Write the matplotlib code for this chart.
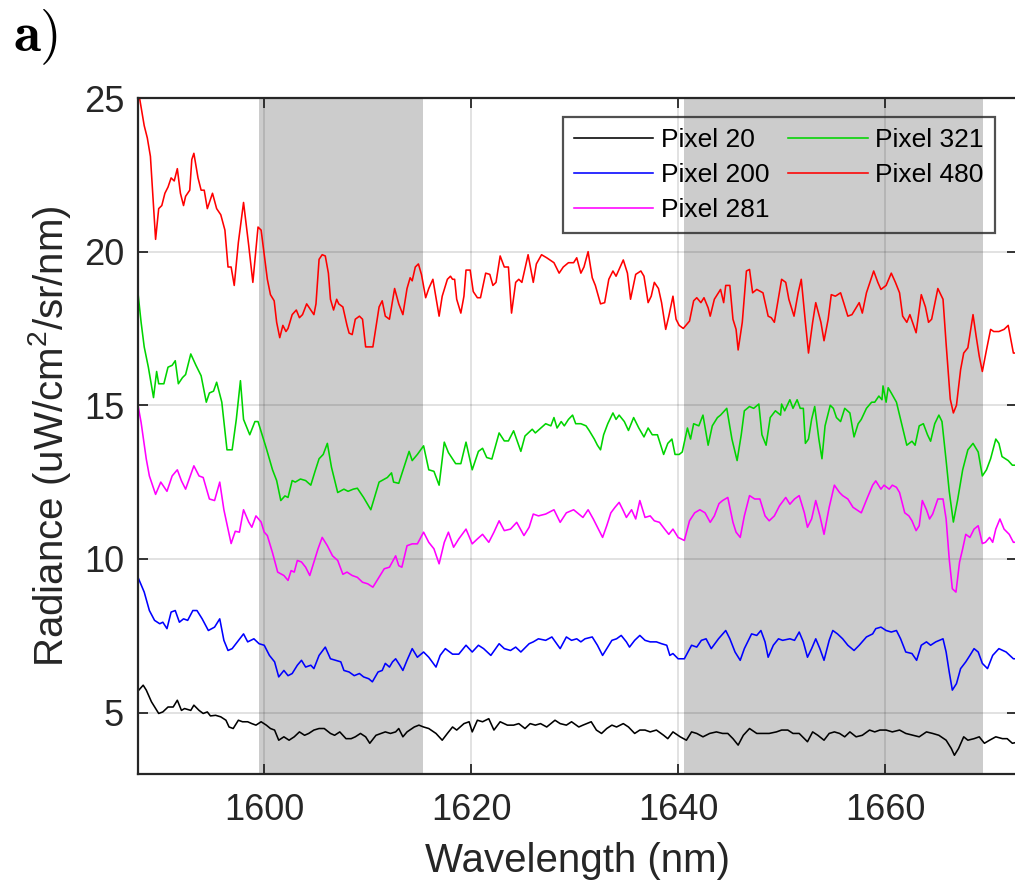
import matplotlib
matplotlib.use('Agg')
import matplotlib.pyplot as plt

plt.rcParams['font.family'] = ['Liberation Sans', 'DejaVu Sans']
plt.rcParams['mathtext.fontset'] = 'custom'
plt.rcParams['mathtext.rm'] = 'Liberation Sans'

# Pixel 20 (preto)
wl_px20 = [1587.8, 1588.3, 1588.6, 1589.1, 1589.8, 1590.2, 1590.7, 1591.2, 1591.6, 1592.0,
           1592.3, 1592.9, 1593.2, 1593.7, 1594.1, 1594.5, 1594.8, 1595.3, 1595.8, 1596.3,
           1596.6, 1597.0, 1597.5, 1597.9, 1598.4, 1598.8, 1599.2, 1599.7, 1600.2, 1600.6,
           1601.0, 1601.4, 1601.9, 1602.4, 1602.9, 1603.4, 1603.9, 1604.3, 1604.8, 1605.3,
           1605.8, 1606.4, 1606.8, 1607.3, 1607.9, 1608.4, 1608.8, 1609.3, 1609.8, 1610.2,
           1610.8, 1611.3, 1611.7, 1612.2, 1612.7, 1613.0, 1613.4, 1613.8, 1614.5, 1614.95,
           1615.4, 1615.9, 1616.6, 1617.2, 1617.7, 1618.2, 1618.6, 1619.3, 1619.8, 1620.1,
           1620.6, 1621.1, 1621.7, 1622.2, 1622.8, 1623.5, 1624.1, 1624.6, 1625.2, 1625.7,
           1626.2, 1626.7, 1627.3, 1628.1, 1628.6, 1629.2, 1629.7, 1630.4, 1630.8, 1631.6,
           1632.1, 1632.6, 1633.1, 1633.6, 1634.05, 1634.7, 1635.2, 1635.8, 1636.3, 1636.8,
           1637.3, 1637.9, 1638.6, 1639.0, 1639.5, 1640.2, 1640.8, 1641.3, 1641.8, 1642.4,
           1643.05, 1643.7, 1644.3, 1644.8, 1645.3, 1645.8, 1646.3, 1646.9, 1647.6, 1648.2,
           1648.8, 1649.5, 1650.0, 1650.6, 1651.1, 1651.7, 1652.5, 1653.0, 1653.5, 1654.1,
           1654.6, 1655.1, 1655.6, 1656.1, 1656.6, 1657.2, 1657.8, 1658.5, 1659.0, 1659.5,
           1660.1, 1660.7, 1661.4, 1662.0, 1662.7, 1663.3, 1664.0, 1664.6, 1665.2, 1665.9,
           1666.4, 1666.7, 1667.1, 1667.6, 1668.0, 1668.6, 1669.1, 1669.6, 1670.1, 1670.7,
           1671.35, 1671.8, 1672.3, 1673.0]
rad_px20 = [5.70, 5.89, 5.73, 5.35, 4.97, 5.02, 5.18, 5.18, 5.40, 5.07,
            5.13, 5.07, 5.24, 5.07, 4.97, 5.02, 4.89, 4.91, 4.86, 4.75,
            4.53, 4.48, 4.75, 4.70, 4.70, 4.64, 4.59, 4.70, 4.59, 4.48,
            4.43, 4.10, 4.21, 4.10, 4.21, 4.37, 4.26, 4.32, 4.43, 4.48,
            4.48, 4.32, 4.26, 4.37, 4.15, 4.15, 4.21, 4.32, 4.21, 4.00,
            4.26, 4.32, 4.37, 4.32, 4.37, 4.48, 4.21, 4.37, 4.53, 4.59,
            4.53, 4.48, 4.32, 4.10, 4.32, 4.53, 4.43, 4.64, 4.70, 4.37,
            4.75, 4.70, 4.80, 4.43, 4.70, 4.59, 4.59, 4.64, 4.48, 4.64,
            4.59, 4.64, 4.53, 4.75, 4.64, 4.59, 4.70, 4.53, 4.59, 4.70,
            4.43, 4.32, 4.48, 4.59, 4.53, 4.64, 4.53, 4.32, 4.43, 4.43,
            4.37, 4.43, 4.26, 4.15, 4.37, 4.21, 4.10, 4.37, 4.32, 4.21,
            4.32, 4.37, 4.32, 4.32, 4.15, 3.94, 4.26, 4.48, 4.32, 4.32,
            4.32, 4.37, 4.43, 4.43, 4.32, 4.32, 4.05, 4.37, 4.26, 4.10,
            4.32, 4.37, 4.32, 4.21, 4.37, 4.21, 4.26, 4.43, 4.37, 4.43,
            4.43, 4.37, 4.43, 4.32, 4.26, 4.21, 4.37, 4.32, 4.26, 4.10,
            3.83, 3.61, 3.83, 4.21, 4.10, 4.15, 4.21, 4.00, 4.10, 4.21,
            4.15, 4.15, 4.00, 4.05]

# Pixel 200 (azul)
wl_px200 = [1587.8, 1588.4, 1588.9, 1589.4, 1589.9, 1590.2, 1590.6, 1591.0, 1591.4, 1591.8,
            1592.2, 1592.6, 1593.1, 1593.5, 1594.0, 1594.6, 1595.2, 1595.7, 1596.1, 1596.5,
            1596.9, 1597.4, 1598.0, 1598.4, 1599.0, 1599.5, 1600.0, 1600.5, 1601.0, 1601.4,
            1601.9, 1602.3, 1602.7, 1603.2, 1603.6, 1604.0, 1604.5, 1604.8, 1605.3, 1605.9,
            1606.4, 1606.9, 1607.4, 1607.7, 1608.2, 1608.7, 1609.2, 1609.6, 1610.1, 1610.45,
            1611.0, 1611.4, 1611.7, 1612.1, 1612.4, 1612.7, 1613.1, 1613.4, 1613.8, 1614.3,
            1614.8, 1615.4, 1615.9, 1616.6, 1617.0, 1617.5, 1618.2, 1618.8, 1619.5, 1620.1,
            1620.7, 1621.2, 1621.9, 1622.7, 1623.2, 1623.8, 1624.3, 1624.8, 1625.6, 1626.0,
            1626.5, 1627.2, 1627.8, 1628.6, 1629.2, 1629.7, 1630.2, 1630.6, 1631.0, 1631.7,
            1632.2, 1632.7, 1633.1, 1633.6, 1634.05, 1634.5, 1635.0, 1635.3, 1635.8, 1636.3,
            1636.8, 1637.3, 1637.9, 1638.4, 1638.9, 1639.2, 1639.5, 1640.0, 1640.6, 1641.3,
            1641.8, 1642.25, 1642.7, 1643.2, 1643.9, 1644.6, 1645.0, 1645.5, 1646.0, 1646.4,
            1647.1, 1647.6, 1648.0, 1648.4, 1648.7, 1649.2, 1649.7, 1650.1, 1650.8, 1651.25,
            1651.7, 1652.1, 1652.5, 1652.9, 1653.3, 1653.7, 1654.1, 1654.6, 1654.95, 1655.4,
            1655.9, 1656.4, 1657.0, 1657.5, 1658.2, 1658.8, 1659.1, 1659.6, 1660.1, 1660.6,
            1661.1, 1661.5, 1662.0, 1662.6, 1663.05, 1663.5, 1664.0, 1664.4, 1664.9, 1665.6,
            1665.9, 1666.2, 1666.5, 1666.9, 1667.3, 1667.8, 1668.2, 1668.6, 1669.0, 1669.4,
            1669.9, 1670.4, 1671.0, 1671.7, 1672.4, 1673.0]
rad_px200 = [9.40, 8.92, 8.32, 8.00, 7.89, 7.94, 7.73, 8.27, 8.32, 7.94,
             8.05, 8.00, 8.32, 8.32, 8.05, 7.67, 7.78, 8.05, 7.35, 7.02,
             7.08, 7.30, 7.56, 7.30, 7.40, 7.24, 7.19, 6.86, 6.65, 6.16,
             6.37, 6.20, 6.27, 6.54, 6.70, 6.48, 6.54, 6.43, 6.86, 7.13,
             6.75, 6.70, 6.65, 6.37, 6.32, 6.20, 6.27, 6.16, 6.10, 6.00,
             6.32, 6.37, 6.60, 6.48, 6.65, 6.75, 6.54, 6.37, 6.70, 7.08,
             6.80, 6.97, 6.80, 6.48, 6.86, 7.08, 6.90, 6.90, 7.19, 6.97,
             7.19, 7.08, 6.86, 7.24, 7.08, 7.02, 7.13, 6.97, 7.24, 7.30,
             7.40, 7.35, 7.46, 7.08, 7.46, 7.35, 7.40, 7.30, 7.40, 7.46,
             7.19, 6.86, 7.08, 7.35, 7.40, 7.51, 7.30, 7.13, 7.35, 7.51,
             7.35, 7.30, 7.30, 7.24, 7.19, 6.86, 6.92, 6.75, 6.75, 7.19,
             7.13, 7.35, 7.40, 7.08, 7.40, 7.67, 7.40, 6.97, 6.70, 7.08,
             7.56, 7.51, 7.67, 7.30, 6.80, 7.19, 7.40, 7.35, 7.40, 7.35,
             7.62, 7.30, 6.80, 7.08, 7.40, 7.08, 6.70, 7.35, 7.67, 7.56,
             7.40, 7.19, 7.02, 7.19, 7.46, 7.56, 7.73, 7.78, 7.67, 7.62,
             7.67, 7.40, 6.97, 6.92, 6.70, 7.19, 7.30, 7.19, 7.30, 7.40,
             6.97, 6.32, 5.73, 5.94, 6.43, 6.65, 6.86, 7.08, 6.97, 6.60,
             6.43, 6.86, 7.08, 6.97, 6.75, 6.75]

# Pixel 281 (magenta)
wl_px281 = [1587.8, 1588.1, 1588.6, 1588.9, 1589.5, 1590.0, 1590.6, 1591.1, 1591.6, 1592.0,
            1592.4, 1593.2, 1593.7, 1594.1, 1594.7, 1595.2, 1595.7, 1596.1, 1596.8, 1597.2,
            1597.6, 1598.0, 1598.5, 1598.8, 1599.2, 1599.7, 1600.0, 1600.3, 1600.8, 1601.3,
            1601.9, 1602.3, 1602.6, 1602.9, 1603.2, 1603.6, 1604.0, 1604.4, 1604.8, 1605.2,
            1605.6, 1606.1, 1606.6, 1607.1, 1607.6, 1608.0, 1608.5, 1609.0, 1609.5, 1610.0,
            1610.5, 1611.0, 1611.6, 1612.1, 1612.7, 1613.0, 1613.3, 1613.8, 1614.3, 1614.8,
            1615.4, 1615.9, 1616.4, 1616.9, 1617.4, 1617.8, 1618.3, 1618.8, 1619.5, 1620.1,
            1620.6, 1621.1, 1621.7, 1622.2, 1622.7, 1623.2, 1623.8, 1624.4, 1625.1, 1625.6,
            1626.0, 1626.5, 1627.2, 1628.0, 1628.6, 1629.2, 1629.9, 1630.4, 1630.8, 1631.3,
            1631.8, 1632.3, 1632.7, 1633.1, 1633.5, 1633.9, 1634.3, 1634.7, 1635.0, 1635.5,
            1635.9, 1636.3, 1636.8, 1637.3, 1637.7, 1638.2, 1638.7, 1639.1, 1639.5, 1640.0,
            1640.6, 1641.1, 1641.6, 1642.1, 1642.6, 1643.1, 1643.5, 1643.95, 1644.3, 1644.8,
            1645.3, 1645.6, 1646.0, 1646.4, 1646.9, 1647.4, 1647.9, 1648.4, 1648.8, 1649.3,
            1649.8, 1650.4, 1650.8, 1651.25, 1651.7, 1652.2, 1652.5, 1652.9, 1653.3, 1653.7,
            1654.1, 1654.6, 1655.1, 1655.6, 1655.9, 1656.4, 1656.9, 1657.4, 1657.7, 1658.3,
            1658.8, 1659.1, 1659.6, 1659.9, 1660.4, 1660.7, 1661.1, 1661.4, 1661.9, 1662.3,
            1662.6, 1663.0, 1663.3, 1663.6, 1664.0, 1664.3, 1664.6, 1665.1, 1665.6, 1665.9,
            1666.2, 1666.5, 1666.85, 1667.2, 1667.5, 1667.8, 1668.2, 1668.6, 1669.0, 1669.4,
            1669.7, 1670.1, 1670.4, 1670.7, 1671.1, 1671.5, 1672.0, 1672.4, 1673.0]
rad_px281 = [15.00, 14.44, 13.25, 12.70, 12.10, 12.50, 12.20, 12.70, 12.90, 12.54,
             12.27, 13.03, 12.70, 12.65, 11.95, 11.90, 12.50, 11.60, 10.50, 10.90,
             10.87, 11.60, 11.20, 11.03, 11.40, 11.20, 10.87, 10.76, 10.20, 9.57,
             9.46, 9.30, 9.62, 9.57, 9.95, 9.90, 9.73, 9.46, 9.90, 10.33,
             10.70, 10.43, 10.10, 9.95, 9.50, 9.57, 9.46, 9.40, 9.24, 9.19,
             9.08, 9.35, 9.68, 9.73, 10.10, 9.78, 9.73, 10.43, 10.49, 10.49,
             10.87, 10.54, 10.33, 9.84, 10.54, 10.87, 10.38, 10.65, 10.97, 10.49,
             10.65, 10.80, 10.54, 10.87, 11.24, 10.92, 10.97, 11.19, 10.76, 11.03,
             11.46, 11.40, 11.46, 11.60, 11.19, 11.50, 11.60, 11.46, 11.35, 11.60,
             11.30, 10.97, 10.70, 11.08, 11.50, 11.68, 11.84, 11.57, 11.35, 11.60,
             11.30, 11.90, 11.35, 11.40, 11.24, 11.19, 10.97, 10.80, 10.97, 10.70,
             10.60, 11.24, 11.50, 11.60, 11.50, 11.19, 11.40, 11.80, 11.90, 12.00,
             11.19, 10.87, 10.70, 11.40, 12.06, 11.95, 11.95, 11.40, 11.24, 11.40,
             11.73, 12.00, 11.78, 11.95, 12.06, 11.50, 11.03, 11.30, 11.90, 11.40,
             10.80, 11.68, 12.40, 12.16, 12.06, 11.95, 11.68, 11.57, 11.50, 12.00,
             12.40, 12.54, 12.27, 12.40, 12.27, 12.40, 12.33, 12.16, 11.50, 11.40,
             11.24, 10.92, 11.08, 11.90, 11.60, 11.30, 11.46, 11.95, 11.95, 11.30,
             10.00, 9.03, 8.92, 9.90, 10.33, 10.80, 10.70, 10.97, 11.08, 10.50,
             10.54, 10.70, 10.54, 10.97, 11.30, 10.97, 10.80, 10.54, 10.55]

# Pixel 321 (verde)
wl_px321 = [1587.8, 1588.1, 1588.4, 1588.8, 1589.3, 1589.6, 1589.8, 1590.3, 1590.7, 1591.1,
            1591.4, 1591.7, 1592.1, 1592.4, 1592.9, 1593.4, 1593.9, 1594.4, 1594.7, 1595.1,
            1595.4, 1595.9, 1596.4, 1596.9, 1597.3, 1597.7, 1598.0, 1598.6, 1599.1, 1599.4,
            1600.2, 1600.8, 1601.2, 1601.6, 1602.0, 1602.3, 1602.7, 1603.0, 1603.5, 1604.0,
            1604.5, 1604.9, 1605.3, 1605.7, 1606.1, 1606.5, 1607.1, 1607.7, 1608.1, 1608.6,
            1609.0, 1609.6, 1610.3, 1611.1, 1611.9, 1612.3, 1612.5, 1613.0, 1614.0, 1614.3,
            1614.8, 1615.4, 1615.9, 1616.4, 1616.9, 1617.4, 1617.8, 1618.5, 1619.0, 1619.5,
            1620.1, 1620.7, 1621.1, 1621.5, 1622.0, 1622.7, 1623.2, 1623.6, 1624.1, 1624.8,
            1625.2, 1625.9, 1626.2, 1627.2, 1627.7, 1628.0, 1628.3, 1628.7, 1629.0, 1629.4,
            1629.8, 1630.1, 1630.6, 1631.1, 1631.4, 1631.9, 1632.2, 1632.5, 1632.8, 1633.2,
            1633.7, 1634.0, 1634.3, 1634.8, 1635.2, 1635.7, 1636.2, 1636.7, 1637.1, 1637.5,
            1638.0, 1638.6, 1639.0, 1639.4, 1639.7, 1640.1, 1640.4, 1640.9, 1641.2, 1641.5,
            1642.0, 1642.4, 1642.9, 1643.3, 1643.8, 1644.1, 1644.7, 1645.2, 1645.7, 1646.1,
            1646.4, 1646.9, 1647.3, 1647.8, 1648.1, 1648.5, 1648.9, 1649.4, 1649.9, 1650.0,
            1650.3, 1650.8, 1651.1, 1651.5, 1651.8, 1652.1, 1652.3, 1652.6, 1652.9, 1653.2,
            1653.6, 1653.9, 1654.2, 1654.7, 1655.0, 1655.3, 1655.7, 1656.1, 1656.6, 1657.0,
            1657.4, 1657.7, 1658.2, 1658.7, 1659.0, 1659.4, 1659.7, 1659.8, 1660.1, 1660.3,
            1660.6, 1661.1, 1661.6, 1662.1, 1662.6, 1662.9, 1663.3, 1663.7, 1664.1, 1664.4,
            1664.8, 1665.2, 1665.5, 1665.9, 1666.2, 1666.6, 1667.0, 1667.5, 1668.0, 1668.5,
            1669.0, 1669.4, 1669.8, 1670.2, 1670.7, 1671.0, 1671.3, 1671.9, 1672.3, 1673.0]
rad_px321 = [18.65, 17.70, 16.90, 16.24, 15.25, 16.10, 15.70, 15.70, 16.24, 16.30,
             16.45, 15.70, 15.90, 16.00, 16.67, 16.30, 15.96, 15.10, 15.40, 15.46,
             15.75, 15.10, 13.55, 13.55, 14.54, 15.80, 14.54, 14.04, 14.47, 14.47,
             13.60, 12.90, 12.55, 11.90, 12.05, 12.00, 12.55, 12.50, 12.60, 12.55,
             12.40, 12.84, 13.26, 13.40, 13.76, 12.98, 12.16, 12.27, 12.20, 12.27,
             12.30, 12.00, 11.60, 12.50, 12.65, 12.80, 12.50, 12.46, 13.50, 13.20,
             13.40, 13.68, 12.90, 12.85, 12.40, 13.80, 13.46, 13.10, 13.10, 13.80,
             12.90, 13.50, 13.60, 13.30, 13.25, 14.10, 13.84, 13.84, 14.17, 13.50,
             14.00, 14.22, 14.10, 14.40, 14.33, 14.60, 14.26, 14.47, 14.33, 14.54,
             14.68, 14.40, 14.40, 14.33, 14.18, 13.90, 13.70, 13.55, 14.04, 14.40,
             14.75, 14.54, 14.68, 14.47, 14.18, 14.60, 14.26, 13.97, 14.26, 14.04,
             14.04, 13.40, 13.76, 13.90, 13.40, 13.40, 13.48, 14.26, 13.90, 14.40,
             14.33, 14.68, 13.70, 14.33, 14.60, 14.68, 14.90, 13.90, 13.20, 14.04,
             14.82, 14.96, 14.90, 15.04, 14.04, 13.70, 14.60, 14.82, 14.68, 15.04,
             14.82, 15.18, 14.90, 15.18, 14.90, 14.90, 13.76, 13.90, 14.54, 14.96,
             13.90, 13.26, 14.33, 15.00, 14.90, 14.60, 14.47, 14.90, 14.75, 13.97,
             14.40, 14.54, 14.90, 15.10, 15.10, 15.30, 15.18, 15.63, 15.10, 15.57,
             15.40, 15.10, 14.40, 13.70, 13.83, 13.70, 14.33, 14.40, 14.04, 13.83,
             14.40, 14.68, 14.47, 13.20, 12.20, 11.20, 11.90, 12.90, 13.55, 13.76,
             13.48, 12.70, 12.90, 13.26, 13.90, 13.76, 13.33, 13.20, 13.05, 13.05]

# Pixel 480 (vermelho)
wl_px480 = [1587.9, 1588.4, 1588.7, 1589.0, 1589.5, 1589.8, 1590.1, 1590.4, 1590.7, 1591.0,
            1591.3, 1591.6, 1591.9, 1592.2, 1592.4, 1592.8, 1593.0, 1593.2, 1593.6, 1593.9,
            1594.2, 1594.5, 1595.0, 1595.4, 1595.8, 1596.2, 1596.5, 1596.8, 1597.1, 1597.5,
            1598.0, 1598.5, 1598.9, 1599.4, 1599.7, 1600.0, 1600.3, 1600.6, 1600.96, 1601.2,
            1601.5, 1601.8, 1602.1, 1602.3, 1602.7, 1603.1, 1603.4, 1603.7, 1604.1, 1604.5,
            1604.8, 1605.0, 1605.3, 1605.6, 1605.9, 1606.2, 1606.4, 1606.7, 1607.0, 1607.2,
            1607.6, 1608.0, 1608.2, 1608.5, 1608.8, 1609.2, 1609.5, 1609.8, 1610.2, 1610.5,
            1611.1, 1611.4, 1611.7, 1612.1, 1612.6, 1613.0, 1613.4, 1613.8, 1614.1, 1614.3,
            1614.6, 1614.9, 1615.2, 1615.6, 1615.9, 1616.3, 1616.9, 1617.2, 1617.7, 1618.0,
            1618.2, 1618.4, 1618.6, 1619.0, 1619.3, 1619.5, 1619.9, 1620.2, 1620.6, 1620.9,
            1621.4, 1621.8, 1622.1, 1622.4, 1622.8, 1623.2, 1623.6, 1623.9, 1624.3, 1624.6,
            1624.9, 1625.5, 1626.0, 1626.3, 1626.8, 1627.3, 1628.0, 1628.5, 1628.9, 1629.4,
            1629.9, 1630.2, 1630.6, 1630.9, 1631.3, 1631.7, 1632.0, 1632.5, 1632.9, 1633.3,
            1633.7, 1634.0, 1634.7, 1635.1, 1635.4, 1635.9, 1636.4, 1636.7, 1637.1, 1637.4,
            1637.7, 1638.1, 1638.4, 1638.8, 1639.1, 1639.5, 1639.8, 1640.1, 1640.5, 1641.1,
            1641.5, 1641.8, 1642.2, 1642.5, 1642.9, 1643.1, 1643.5, 1644.1, 1644.4, 1644.6,
            1645.0, 1645.3, 1645.6, 1645.8, 1646.2, 1646.6, 1646.9, 1647.2, 1647.6, 1648.2,
            1648.7, 1649.0, 1649.3, 1650.0, 1650.4, 1650.7, 1651.2, 1651.6, 1651.9, 1652.3,
            1652.6, 1653.0, 1653.3, 1653.8, 1654.1, 1654.5, 1654.8, 1655.2, 1655.7, 1656.0,
            1656.4, 1656.8, 1657.2, 1657.5, 1657.8, 1658.2, 1658.9, 1659.3, 1659.6, 1660.1,
            1660.6, 1661.0, 1661.4, 1661.7, 1662.1, 1662.4, 1663.0, 1663.5, 1663.9, 1664.2,
            1664.5, 1665.1, 1665.6, 1665.9, 1666.3, 1666.6, 1666.9, 1667.3, 1667.6, 1668.0,
            1668.5, 1668.8, 1669.1, 1669.4, 1669.8, 1670.2, 1670.5, 1671.0, 1671.5, 1671.9,
            1672.4, 1673.0]
rad_px480 = [25.10, 24.10, 23.70, 23.10, 20.40, 21.40, 21.50, 21.90, 22.10, 22.40,
             22.30, 22.70, 21.90, 21.50, 21.80, 22.00, 23.00, 23.20, 22.40, 22.00,
             22.00, 21.40, 21.90, 21.40, 21.20, 20.70, 19.50, 19.50, 18.90, 20.30,
             21.60, 20.20, 19.00, 20.80, 20.70, 19.90, 19.10, 18.60, 18.40, 17.70,
             17.20, 17.60, 17.40, 17.50, 17.95, 18.10, 17.85, 17.95, 18.30, 18.10,
             17.95, 18.30, 19.75, 19.90, 19.86, 19.30, 18.45, 18.10, 18.45, 18.30,
             18.20, 17.60, 17.35, 17.30, 17.80, 17.90, 17.80, 16.90, 16.90, 16.90,
             18.20, 18.40, 17.90, 17.80, 18.80, 18.30, 17.95, 18.80, 19.15, 19.05,
             19.50, 19.60, 19.25, 18.50, 18.80, 19.10, 17.90, 18.55, 19.10, 19.20,
             19.10, 19.10, 18.45, 18.00, 18.55, 19.40, 19.40, 18.70, 18.50, 18.50,
             19.30, 19.26, 18.90, 19.00, 19.86, 19.50, 19.50, 18.00, 19.00, 19.10,
             19.00, 19.90, 19.00, 19.60, 19.90, 19.80, 19.64, 19.30, 19.50, 19.64,
             19.64, 19.80, 19.30, 19.50, 20.00, 19.15, 18.90, 18.30, 18.34, 19.10,
             19.37, 19.20, 19.73, 19.30, 18.45, 19.26, 19.37, 19.20, 18.34, 18.55,
             19.00, 18.80, 18.34, 17.47, 17.90, 18.55, 17.80, 17.60, 17.50, 17.74,
             18.40, 18.50, 18.34, 18.50, 18.17, 17.90, 18.45, 18.77, 18.34, 18.90,
             18.90, 17.80, 17.47, 16.80, 17.70, 19.37, 19.42, 18.66, 18.77, 18.66,
             17.90, 17.85, 17.70, 19.10, 19.00, 18.45, 17.90, 18.66, 19.10, 17.70,
             16.70, 17.70, 18.34, 17.70, 17.10, 17.80, 18.60, 18.55, 18.66, 18.34,
             17.90, 17.95, 18.17, 18.34, 18.00, 18.66, 19.37, 19.00, 18.77, 18.90,
             19.30, 19.00, 18.66, 17.90, 17.70, 17.95, 17.36, 18.60, 18.20, 17.70,
             17.80, 18.80, 18.45, 17.00, 15.20, 14.75, 15.00, 16.16, 16.70, 16.87,
             17.95, 17.25, 16.60, 16.10, 16.80, 17.47, 17.40, 17.40, 17.47, 17.60,
             16.70, 16.70]

# faixas sombreadas (nm)
bands = [(1599.5, 1615.3), (1640.55, 1669.5)]

series = [
    (wl_px20, rad_px20, 'Pixel 20', '#000000'),
    (wl_px200, rad_px200, 'Pixel 200', '#0000ff'),
    (wl_px281, rad_px281, 'Pixel 281', '#ff00ff'),
    (wl_px321, rad_px321, 'Pixel 321', '#00d400'),
    (wl_px480, rad_px480, 'Pixel 480', '#ff0000'),
]

fig = plt.figure(figsize=(10.15, 8.85), dpi=100)
ax = fig.add_axes([138 / 1015, 111 / 885, 879 / 1015, 676 / 885])

for b0, b1 in bands:
    ax.axvspan(b0, b1, color='#cccccc', lw=0, zorder=1)

for wl, rad, label, color in series:
    ax.plot(wl, rad, color=color, lw=1.15, label=label, zorder=2)

ax.set_xlim(1587.8, 1672.75)
ax.set_ylim(3, 25)
ax.set_xticks([1600, 1620, 1640, 1660])
ax.set_yticks([5, 10, 15, 20, 25])
ax.set_axisbelow('line')
ax.grid(True, color='#262626', alpha=0.15, lw=1.3)

for sp in ax.spines.values():
    sp.set_color('#262626')
    sp.set_linewidth(1.6)
ax.tick_params(direction='in', length=7, width=1.3, color='#262626',
               labelcolor='#262626', labelsize=26, top=True, right=True)
ax.tick_params(axis='x', pad=14)
ax.tick_params(axis='y', pad=10)

ax.set_xlabel('Wavelength (nm)', fontsize=29, color='#262626', labelpad=10)
ax.set_ylabel(r'Radiance (uW/cm$^{\mathrm{2}}$/sr/nm)', fontsize=29,
              color='#262626', labelpad=8)

# legenda transparente, como no original
leg = ax.legend(ncol=2, loc='upper right', bbox_to_anchor=(0.975, 0.972),
                borderaxespad=0, fontsize=19, handlelength=3.0,
                handletextpad=0.3, columnspacing=0.7, labelspacing=0.42,
                borderpad=0.42, fancybox=False, facecolor='none', framealpha=None)
leg.get_frame().set_edgecolor('#262626')
leg.get_frame().set_linewidth(1.6)

fig.text(13 / 1015, 1 - 51 / 885, r'$\mathbf{a)}$', fontsize=40,
         math_fontfamily='cm', ha='left', va='baseline')

plt.savefig('out.png', dpi=100)
